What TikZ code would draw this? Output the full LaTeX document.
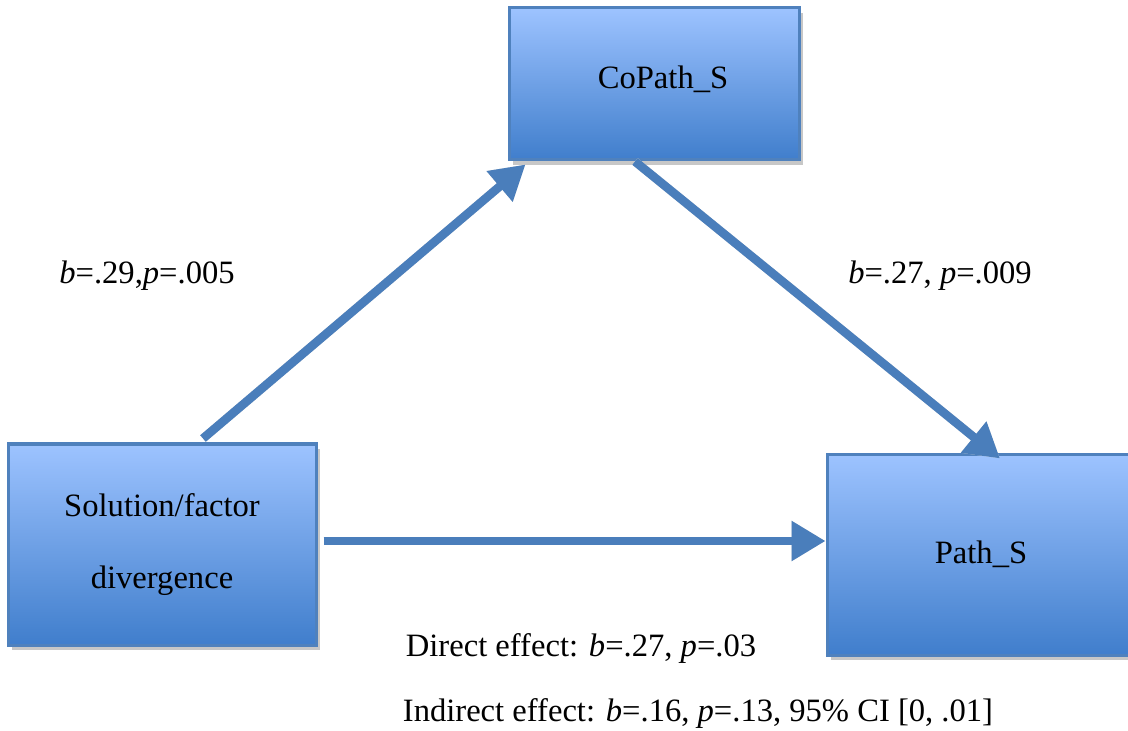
\documentclass[tikz,border=0pt]{standalone}
\usepackage{fontspec}
\setmainfont{Liberation Serif}
\usepackage{tikz}
\usetikzlibrary{arrows.meta, shadows}

\definecolor{boxtop}{RGB}{157,195,255}
\definecolor{boxbot}{RGB}{64,126,204}
\definecolor{boxline}{RGB}{79,129,189}
\definecolor{arrowblue}{RGB}{74,126,187}

\tikzset{
  varbox/.style={draw=boxline, line width=1.5pt, top color=boxtop, bottom color=boxbot,
    drop shadow={shadow xshift=2pt, shadow yshift=-2.5pt, fill=black!22, opacity=1},
    font=\fontsize{16.3}{19}\selectfont, inner sep=0pt},
  effect/.style={font=\fontsize{16.3}{19}\selectfont, inner sep=0pt},
  patharrow/.style={draw=arrowblue, line width=4.3pt, -{Triangle[length=17pt,width=19pt]}},
  arrowshadow/.style={draw=black!15, line width=4.3pt, -{Triangle[length=17pt,width=19pt]}}
}

\begin{document}
\begin{tikzpicture}[x=0.5pt, y=-0.5pt]
  \useasboundingbox (0,0) rectangle (1128,731);

  \node[varbox, minimum width=145pt, minimum height=76pt] (co) at (654,84) {\raisebox{7pt}{\hspace{9pt}CoPath\_S}};
  \node[varbox, minimum width=154pt, minimum height=100.5pt, align=center] (sol) at (162,544.5) {Solution/factor\\[17pt]divergence};
  \node[varbox, minimum width=154pt, minimum height=100.5pt] (path) at (981,554.5) {Path\_S};

  % shadows of the arrows
  \begin{scope}[shift={(3,4)}]
    \draw[arrowshadow] ([xshift=20.5pt,yshift=2pt]sol.north) -- ([xshift=9pt,yshift=-1.5pt]co.south west);
    \draw[arrowshadow] ([xshift=-9.5pt]co.south) -- ([xshift=9.5pt,yshift=-3pt]path.north);
    \draw[arrowshadow] ([xshift=3pt,yshift=1.75pt]sol.east) -- ([yshift=6.75pt]path.west);
  \end{scope}

  \draw[patharrow] ([xshift=20.5pt,yshift=2pt]sol.north) -- ([xshift=9pt,yshift=-1.5pt]co.south west);
  \draw[patharrow] ([xshift=-9.5pt]co.south) -- ([xshift=9.5pt,yshift=-3pt]path.north);
  \draw[patharrow] ([xshift=3pt,yshift=1.75pt]sol.east) -- ([yshift=6.75pt]path.west);

  \node[effect] (ab) at (147,276) {\textit{b}=.29,\textit{p}=.005};
  \node[effect] (bc) at (940,276) {\textit{b}=.27, \textit{p}=.009};
  \node[effect] (direct) at (581,648) {Direct effect: \textit{b}=.27, \textit{p}=.03};
  \node[effect] (indirect) at (698,713) {Indirect effect: \textit{b}=.16, \textit{p}=.13, 95\% CI [0, .01]};
\end{tikzpicture}
\end{document}
